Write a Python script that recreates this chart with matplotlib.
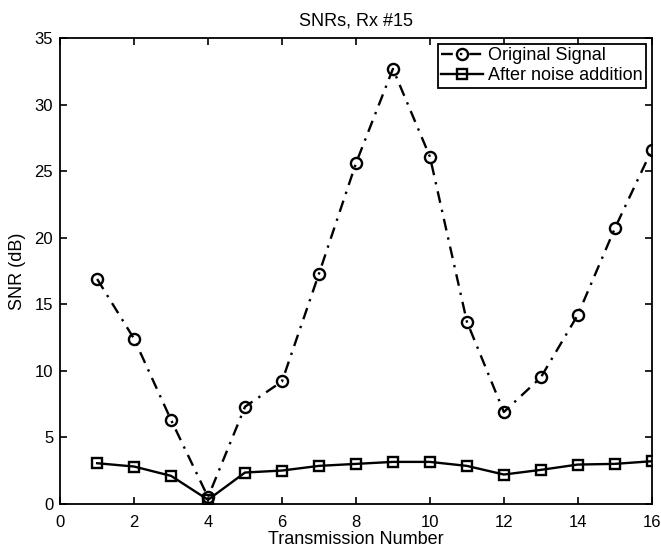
import matplotlib
matplotlib.use("Agg")
import matplotlib.pyplot as plt

transmissions = list(range(1, 17))
snr_original = [16.9, 12.4, 6.3, 0.5, 7.3, 9.2, 17.3, 25.6, 32.7, 26.1, 13.7, 6.9, 9.5, 14.2, 20.7, 26.6]
snr_noisy = [3.05, 2.8, 2.1, 0.3, 2.35, 2.5, 2.85, 3.0, 3.15, 3.15, 2.85, 2.2, 2.55, 2.95, 3.0, 3.2]
x_ticks = list(range(0, 17, 2))
y_ticks = list(range(0, 36, 5))

plt.rcParams["font.family"] = ["Liberation Sans", "DejaVu Sans"]

fig = plt.figure(figsize=(6.61, 5.47), dpi=100)
ax = fig.add_axes([0.091, 0.079, 0.895, 0.851])

ax.plot(transmissions, snr_original, linestyle=(0, (5, 3, 1, 3)), color="black", linewidth=1.7,
        marker="o", markersize=8, markerfacecolor="none", markeredgewidth=1.7,
        label="Original Signal")
ax.plot(transmissions, snr_noisy, linestyle="-", color="black", linewidth=1.7,
        marker="s", markersize=7.5, markerfacecolor="none", markeredgewidth=1.7,
        label="After noise addition")

ax.set_xlim(0, 16)
ax.set_ylim(0, 35)
ax.set_xticks(x_ticks)
ax.set_yticks(y_ticks)
ax.tick_params(direction="in", top=True, right=True, length=5, width=1.2, labelsize=12)
ax.tick_params(axis="x", pad=8)
ax.tick_params(axis="y", pad=5)
for s in ax.spines.values():
    s.set_linewidth(1.3)

ax.set_title("SNRs, Rx #15", fontsize=13, pad=9)
ax.set_xlabel("Transmission Number", fontsize=13, labelpad=1)
ax.set_ylabel("SNR (dB)", fontsize=13, labelpad=6)

leg = ax.legend(loc="upper right", fancybox=False, framealpha=1, edgecolor="black",
                fontsize=13, handlelength=2.3, borderaxespad=0.3, borderpad=0.2,
                labelspacing=0.15, handletextpad=0.3)
leg.get_frame().set_linewidth(1.3)

fig.savefig("out.png", dpi=100)
